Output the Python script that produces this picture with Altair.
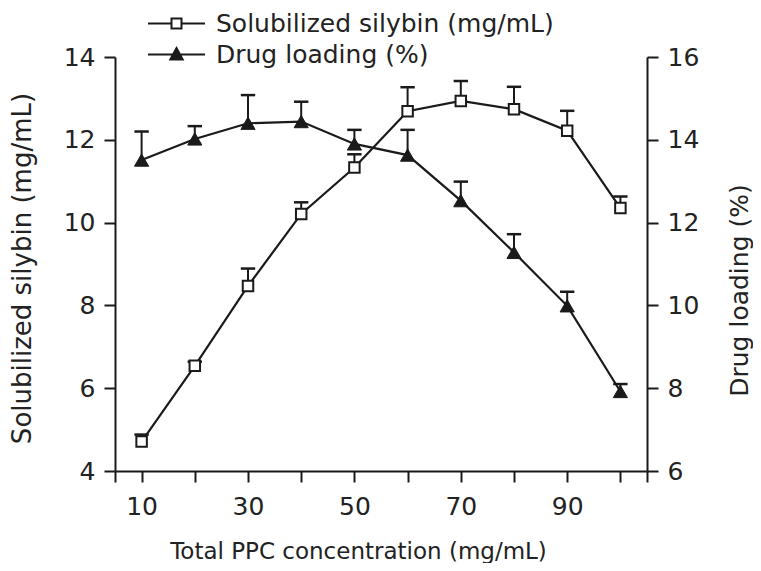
import altair as alt
import pandas as pd

# ---- data ----
conc = [10, 20, 30, 40, 50, 60, 70, 80, 90, 100]
silybin = [4.71, 6.54, 8.47, 10.21, 11.33, 12.69, 12.94, 12.74, 12.22, 10.35]
silybin_err = [0.17, 0.10, 0.42, 0.28, 0.32, 0.58, 0.48, 0.54, 0.48, 0.28]
loading = [13.51, 14.02, 14.40, 14.44, 13.90, 13.63, 12.53, 11.28, 9.99, 7.92]
loading_err = [0.69, 0.31, 0.68, 0.48, 0.34, 0.61, 0.46, 0.44, 0.34, 0.18]
series_names = ["Solubilized silybin (mg/mL)", "Drug loading (%)"]
x_ticks = [5, 10, 20, 30, 40, 50, 60, 70, 80, 90, 100, 105]
x_labels = [10, 30, 50, 70, 90]
left_ticks = [4, 6, 8, 10, 12, 14]
right_ticks = [6, 8, 10, 12, 14, 16]

FONT = "DejaVu Sans"
INK = "#1a1a1a"
TXT = "#222222"
FS = 25
CAP = 1.35  # half width of error-bar caps, in x units

df_s = pd.DataFrame({"conc": conc, "val": silybin, "err": silybin_err})
df_l = pd.DataFrame({"conc": conc, "val": loading, "err": loading_err})
df_leg = pd.DataFrame({"series": series_names})

x_axis = alt.Axis(
    values=x_ticks,
    labelExpr="indexof(%s, datum.value) >= 0 ? datum.label : ''" % str(x_labels),
    title="Total PPC concentration (mg/mL)",
    grid=False, domainColor=INK, domainWidth=2, tickColor=INK, tickWidth=2,
    tickSize=11, labelPadding=12, labelFont=FONT, labelFontSize=FS, labelColor=TXT,
    titleFont=FONT, titleFontSize=23, titleFontWeight="normal", titleColor=TXT,
    titleBaseline="top", titleY=69, titleX=243, titleAlign="center",
)
x_scale = alt.Scale(domain=[5, 105], nice=False, zero=False)


def yaxis(side, ticks, title, tx, ty, tfs):
    return alt.Axis(
        orient=side, values=ticks, title=title, grid=False,
        domainColor=INK, domainWidth=2, tickColor=INK, tickWidth=2, tickSize=11,
        labelPadding=9, labelFont=FONT, labelFontSize=FS, labelColor=TXT,
        titleFont=FONT, titleFontSize=tfs, titleFontWeight="normal", titleColor=TXT,
        titleAngle=270, titleBaseline="top", titleAlign="center", titleX=tx, titleY=ty,
    )


def series_layer(df, domain, axis, point_mark):
    y_scale = alt.Scale(domain=domain, nice=False, zero=False)
    base = alt.Chart(df).transform_calculate(
        top="datum.val + datum.err",
        xl="datum.conc - %f" % CAP,
        xr="datum.conc + %f" % CAP,
    )
    line = base.mark_line(color=INK, strokeWidth=2.2).encode(
        x=alt.X("conc:Q", scale=x_scale, axis=x_axis),
        y=alt.Y("val:Q", scale=y_scale, axis=axis),
    )
    bar = base.mark_rule(color=INK, strokeWidth=2).encode(
        x=alt.X("conc:Q", scale=x_scale, axis=x_axis),
        y=alt.Y("val:Q", scale=y_scale, axis=axis),
        y2="top:Q",
    )
    cap = base.mark_rule(color=INK, strokeWidth=2.5).encode(
        x=alt.X("xl:Q", scale=x_scale, axis=x_axis),
        x2="xr:Q",
        y=alt.Y("top:Q", scale=y_scale, axis=axis),
    )
    pts = base.mark_point(**point_mark).encode(
        x=alt.X("conc:Q", scale=x_scale, axis=x_axis),
        y=alt.Y("val:Q", scale=y_scale, axis=axis),
    )
    return alt.layer(line, bar, cap, pts)


layer_s = series_layer(
    df_s, [4, 14],
    yaxis("left", left_ticks, "Solubilized silybin (mg/mL)", -106, 211, 26),
    dict(shape="square", filled=True, fill="white", stroke=INK, strokeWidth=2, size=110, opacity=1),
)
layer_l = series_layer(
    df_l, [6, 16],
    yaxis("right", right_ticks, "Drug loading (%)", 80, 233, 25),
    dict(shape="triangle-up", filled=True, fill=INK, stroke=INK, strokeWidth=1, size=200, opacity=1),
)

sq_path = "M-2.85,0H-0.5M0.5,0H2.85M-0.5,-0.5H0.5V0.5H-0.5Z"
tri_path = "M-2.85,0H2.85M0,-0.65L0.62,0.5L-0.62,0.5Z"

leg = alt.Legend(
    title=None, orient="none", legendX=49, legendY=-46,
    labelFont=FONT, labelFontSize=25, labelColor=TXT, labelLimit=500,
    labelOffset=27, rowPadding=5, symbolSize=400,
    symbolStrokeColor=INK, symbolStrokeWidth=2, symbolOpacity=1,
)

legend_layer = alt.Chart(df_leg).transform_filter("false").mark_point(
    filled=False, strokeWidth=2, size=400, opacity=1
).encode(
    shape=alt.Shape(
        "series:N",
        scale=alt.Scale(domain=series_names, range=[sq_path, tri_path]),
        legend=leg,
    ),
    fill=alt.Fill(
        "series:N",
        scale=alt.Scale(domain=series_names, range=["white", INK]),
        legend=leg,
    ),
    stroke=alt.Stroke(
        "series:N",
        scale=alt.Scale(domain=series_names, range=[INK, INK]),
        legend=leg,
    ),
)

chart = alt.layer(
    alt.layer(layer_s, legend_layer), layer_l
).resolve_scale(y="independent").properties(
    width=532, height=414,
    padding={"left": 107, "top": 49, "right": 106, "bottom": 92},
    autosize=alt.AutoSizeParams(type="none"),
    background="white",
).configure_view(stroke=None)

chart.save("out.html", embed_options={"renderer": "svg", "actions": False})
